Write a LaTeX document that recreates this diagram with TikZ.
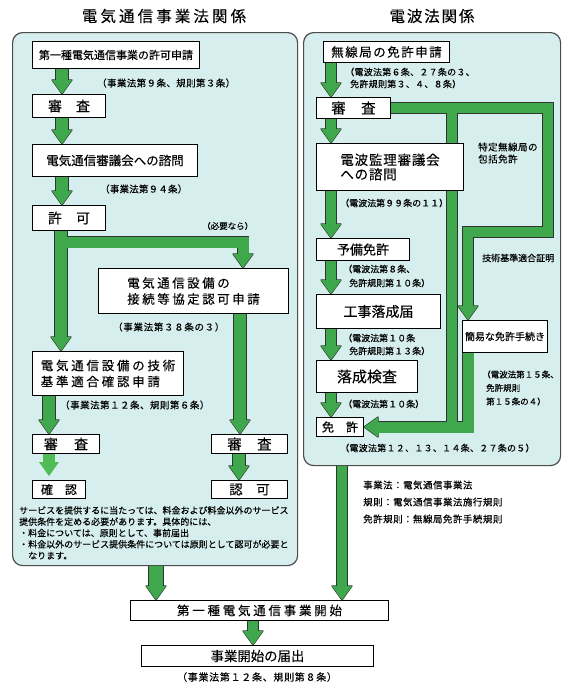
\documentclass[tikz,border=0pt]{standalone}
\usepackage{fontspec}
\setmainfont{Noto Sans CJK JP}
\definecolor{panelfill}{RGB}{214,238,237}
\definecolor{gfill}{RGB}{64,168,76}
\definecolor{gbright}{RGB}{80,188,86}
\definecolor{gedge}{RGB}{45,55,45}
\newcommand{\jfs}[3]{\fontsize{#1pt}{#2pt}\selectfont\addfontfeature{LetterSpace=#3,FakeBold=0.2}}
\tikzset{
  panel/.style={draw=black!70, fill=panelfill, line width=1.2pt, rounded corners=10pt, anchor=north west, inner sep=0pt},
  box/.style={draw=black, fill=white, line width=1pt, anchor=north west, inner sep=0pt, align=center},
  note/.style={anchor=west, inner sep=0pt, align=left},
  gout/.style={draw=gedge, line width=#1+1.2pt, shorten >=13pt, line join=miter},
  gin/.style={draw=gfill, line width=#1, shorten >=13pt, line join=miter},
  ghout/.style={fill=gedge, draw=gedge, line width=1.2pt, line join=round},
  ghin/.style={fill=gfill},
  ghbright/.style={fill=gbright},
  pics/ghead/.style={code={\path[#1] (0,0) -- (-10,-14) -- (10,-14) -- cycle;}}
}
\begin{document}
\begin{tikzpicture}[x=1pt, y=-1pt]
\fill[white] (0,0) rectangle (568,688);
\useasboundingbox (0,0) rectangle (568,688);
\node[panel, minimum width=285pt, minimum height=533pt] (lpanel) at (12,32) {};
\node[panel, minimum width=257pt, minimum height=433pt] (rpanel) at (303,32) {};
\coordinate (fork) at (61,242);
\coordinate (fork2) at (452,107.5);
\coordinate (loopturn) at (548,232);
\path (32,41) node[box, minimum width=167pt, minimum height=27pt] (apply) {}
  (32,94) node[box, minimum width=73pt, minimum height=23pt] (review1) {}
  (32,144) node[box, minimum width=165pt, minimum height=32pt] (council) {}
  (32,205) node[box, minimum width=73pt, minimum height=25pt] (permit) {}
  (98,268) node[box, minimum width=190pt, minimum height=45pt] (connreq) {}
  (32,351) node[box, minimum width=151pt, minimum height=44pt] (techreq) {}
  (32,434) node[box, minimum width=67pt, minimum height=19pt] (review2) {}
  (32,480) node[box, minimum width=53pt, minimum height=18pt] (confirm) {}
  (211,434) node[box, minimum width=76pt, minimum height=19pt] (review3) {}
  (211,480) node[box, minimum width=76pt, minimum height=18pt] (approve) {}
  (323,41) node[box, minimum width=126pt, minimum height=21pt] (radioapp) {}
  (316,97) node[box, minimum width=74pt, minimum height=21pt] (rreview) {}
  (316,143) node[box, minimum width=147pt, minimum height=47pt] (radcouncil) {}
  (316,238) node[box, minimum width=93pt, minimum height=22pt] (prelim) {}
  (316,294) node[box, minimum width=124pt, minimum height=34pt] (complete) {}
  (316,360) node[box, minimum width=101pt, minimum height=32pt] (inspect) {}
  (316,417) node[box, minimum width=47pt, minimum height=19pt] (license) {}
  (462,320) node[box, minimum width=85pt, minimum height=32pt] (simple) {}
  (130,600) node[box, minimum width=258pt, minimum height=20pt] (start) {}
  (141,645) node[box, minimum width=232pt, minimum height=21pt] (notify) {};
\foreach \lay in {out,in}{
  \draw[g\lay=12pt] (apply.south -| 62,0) -- (review1.north -| 62,0);
  \pic at (review1.north -| 62,0) {ghead=gh\lay};
  \draw[g\lay=12pt] (review1.south -| 62,0) -- (council.north -| 62,0);
  \pic at (council.north -| 62,0) {ghead=gh\lay};
  \draw[g\lay=12pt] (council.south -| 62,0) -- (permit.north -| 62,0);
  \pic at (permit.north -| 62,0) {ghead=gh\lay};
  \draw[g\lay=11pt] (fork) -| (connreq.north -| 243,0);
  \pic at (connreq.north -| 243,0) {ghead=gh\lay};
  \draw[g\lay=12pt] (permit.south -| 61,0) -- (techreq.north -| 61,0);
  \pic at (techreq.north -| 61,0) {ghead=gh\lay};
  \draw[g\lay=12pt] (connreq.south -| 240,0) -- (review3.north -| 240,0);
  \pic at (review3.north -| 240,0) {ghead=gh\lay};
  \draw[g\lay=12pt] (techreq.south -| 49,0) -- (review2.north -| 49,0);
  \pic at (review2.north -| 49,0) {ghead=gh\lay};
  \draw[g\lay=12pt] (review3.south -| 239,0) -- (approve.north -| 239,0);
  \pic at (approve.north -| 239,0) {ghead=gh\lay};
  \draw[g\lay=10pt] (radioapp.south -| 331,0) -- (rreview.north -| 331,0);
  \pic at (rreview.north -| 331,0) {ghead=gh\lay};
  \draw[g\lay=10pt] (rreview.south -| 331,0) -- (radcouncil.north -| 331,0);
  \pic at (radcouncil.north -| 331,0) {ghead=gh\lay};
  \draw[g\lay=10pt] (radcouncil.south -| 331,0) -- (prelim.north -| 331,0);
  \pic at (prelim.north -| 331,0) {ghead=gh\lay};
  \draw[g\lay=10pt] (prelim.south -| 331,0) -- (complete.north -| 331,0);
  \pic at (complete.north -| 331,0) {ghead=gh\lay};
  \draw[g\lay=10pt] (complete.south -| 331,0) -- (inspect.north -| 331,0);
  \pic at (inspect.north -| 331,0) {ghead=gh\lay};
  \draw[g\lay=10pt] (inspect.south -| 331,0) -- (license.north -| 331,0);
  \pic at (license.north -| 331,0) {ghead=gh\lay};
  \draw[g\lay=10pt] (rreview.east) -| (loopturn) -| (simple.north -| 468,0);
  \pic at (simple.north -| 468,0) {ghead=gh\lay};
  \draw[g\lay=10pt] (fork2) |- (license.east);
  \draw[g\lay=11pt] (simple.south -| 468,0) |- (license.east);
  \pic[rotate=-90] at (license.east) {ghead=gh\lay};
  \draw[g\lay=14pt] (lpanel.south -| 156,0) -- (start.north -| 156,0);
  \pic at (start.north -| 156,0) {ghead=gh\lay};
  \draw[g\lay=10pt] (rpanel.south -| 342,0) -- (start.north -| 342,0);
  \pic at (start.north -| 342,0) {ghead=gh\lay};
  \draw[g\lay=10pt] (start.south -| 253,0) -- (notify.north -| 253,0);
  \pic at (notify.north -| 253,0) {ghead=gh\lay};
}
\draw[gin=12pt, draw=gbright, shorten >=17pt] (review2.south -| 49,0) -- (confirm.north -| 49,0);
\pic at ([yshift=4pt]confirm.north -| 49,0) {ghead=ghbright};
\path (32,41) node[box, minimum width=167pt, minimum height=27pt, font=\jfs{11}{13}{0}] {第一種電気通信事業の許可申請}
  (32,94) node[box, minimum width=73pt, minimum height=23pt, font=\jfs{14}{16}{0}] {審　査}
  (32,144) node[box, minimum width=165pt, minimum height=32pt, font=\jfs{12.5}{15}{0}] {電気通信審議会への諮問}
  (32,205) node[box, minimum width=73pt, minimum height=25pt, font=\jfs{14}{16}{0}] {許　可}
  (98,268) node[box, minimum width=190pt, minimum height=45pt, align=left, font=\jfs{12.5}{16}{20}] {電気通信設備の\\接続等協定認可申請}
  (32,351) node[box, minimum width=151pt, minimum height=44pt, align=left, font=\jfs{12.5}{16}{22}] {電気通信設備の技術\\基準適合確認申請}
  (32,434) node[box, minimum width=67pt, minimum height=19pt, font=\jfs{14}{16}{8}] {審　査}
  (32,480) node[box, minimum width=53pt, minimum height=18pt, font=\jfs{12}{14}{0}] {確　認}
  (211,434) node[box, minimum width=76pt, minimum height=19pt, font=\jfs{14.5}{16}{3}] {審　査}
  (211,480) node[box, minimum width=76pt, minimum height=18pt, font=\jfs{13.5}{15}{0}] {認　可}
  (323,41) node[box, minimum width=126pt, minimum height=21pt, font=\jfs{12.5}{15}{12}] {無線局の免許申請}
  (316,97) node[box, minimum width=74pt, minimum height=21pt, font=\jfs{14.5}{16}{3}] {審　査}
  (316,143) node[box, minimum width=147pt, minimum height=47pt, align=left, font=\jfs{13.5}{14.5}{6}] {電波監理審議会\\への諮問}
  (316,238) node[box, minimum width=93pt, minimum height=22pt, font=\jfs{13}{15}{0}] {予備免許}
  (316,294) node[box, minimum width=124pt, minimum height=34pt, font=\jfs{14}{16}{0}] {工事落成届}
  (316,360) node[box, minimum width=101pt, minimum height=32pt, font=\jfs{15}{17}{0}] {落成検査}
  (316,417) node[box, minimum width=47pt, minimum height=19pt, font=\jfs{12}{14}{0}] {免　許}
  (462,320) node[box, minimum width=85pt, minimum height=32pt, font=\jfs{10}{12}{0}] {簡易な免許手続き}
  (130,600) node[box, minimum width=258pt, minimum height=20pt, font=\jfs{12.5}{15}{22}] {第一種電気通信事業開始}
  (141,645) node[box, minimum width=232pt, minimum height=21pt, font=\jfs{13.4}{15}{0}] {事業開始の届出};
\node[font=\jfs{15.5}{17}{20}] (ltitle) at (164,16) {電気通信事業法関係};
\node[font=\jfs{15.5}{17}{12}] (rtitle) at (432,16) {電波法関係};
\node[note, font=\jfs{9.5}{12}{4}] (law1) at (97,83) {（事業法第９条、規則第３条）};
\node[note, font=\jfs{9.5}{12}{2}] (law2) at (100,189) {（事業法第９４条）};
\node[note, font=\jfs{8.5}{11}{0}] (ifneed) at (202,226) {（必要なら）};
\node[note, font=\jfs{9.5}{12}{7}] (law3) at (113,327) {（事業法第３８条の３）};
\node[note, font=\jfs{9.5}{12}{5}] (law4) at (60,405) {（事業法第１２条、規則第６条）};
\node[note, anchor=north west, font=\jfs{9}{11.3}{0}] (terms) at (19,506) {サービスを提供するに当たっては、料金および料金以外のサービス\\提供条件を定める必要があります。具体的には、\\・料金については、原則として、事前届出\\・料金以外のサービス提供条件については原則として認可が必要と\\　なります。};
\node[note, font=\jfs{9}{12}{3}] (rlaw1) at (345,78) {（電波法第６条、２７条の３、\\\hspace*{5pt}免許規則第３、４、８条）};
\node[note, font=\jfs{9}{12}{0}] (rlaw2) at (340,203) {（電波法第９９条の１１）};
\node[note, font=\jfs{9}{14}{0}] (rlaw3) at (343,276) {（電波法第８条、\\\hspace*{6pt}免許規則第１０条）};
\node[note, font=\jfs{9}{13}{0}] (rlaw4) at (343,344.5) {（電波法第１０条\\\hspace*{6pt}免許規則第１３条）};
\node[note, font=\jfs{9}{12}{0}] (rlaw5) at (343,404) {（電波法第１０条）};
\node[note, font=\jfs{9}{12}{3}] (rlaw6) at (340,448) {（電波法第１２、１３、１４条、２７条の５）};
\node[note, font=\jfs{9.5}{12}{5}] (bulk) at (478,153) {特定無線局の\\包括免許};
\node[note, font=\jfs{9}{12}{0}] (techcert) at (482,258) {技術基準適合証明};
\node[note, font=\jfs{8.5}{13.5}{0}] (rlaw7) at (482,388) {（電波法第１５条、\\\hspace*{4pt}免許規則\\\hspace*{4pt}第１５条の４）};
\node[note, font=\jfs{9.5}{17}{5}] (legend) at (363,502) {事業法：電気通信事業法\\規則：電気通信事業法施行規則\\免許規則：無線局免許手続規則};
\node[font=\jfs{10}{12}{7}] (law5) at (257,677) {（事業法第１２条、規則第８条）};
\end{tikzpicture}
\end{document}
